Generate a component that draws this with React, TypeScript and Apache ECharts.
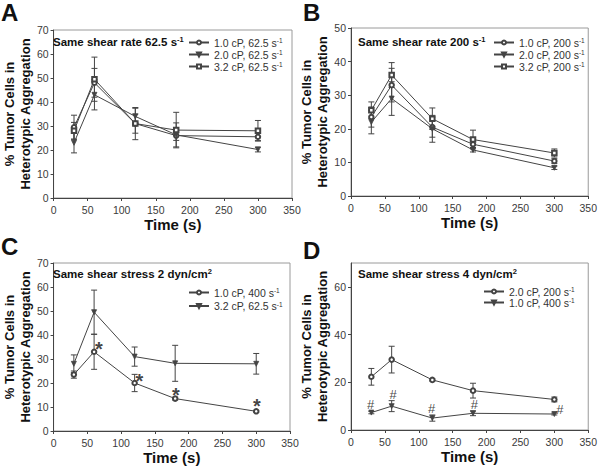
import React, { useEffect, useRef } from "react";
import * as echarts from "echarts";

// ---- Data ----
const TIME = [30, 60, 120, 180, 300];

// Panel A: same shear rate 62.5 s-1
const A_1cP = [29.5, 48, 31, 26, 25.5];
const A_1cP_err = [5, 6, 6.7, 2, 1.5];
const A_2cP = [23, 43, 34, 26.3, 20.2];
const A_2cP_err = [4.2, 6.3, 3.4, 5, 1];
const A_32cP = [28, 49.5, 31, 28.3, 28];
const A_32cP_err = [3.5, 9.2, 4, 7.4, 4.3];

// Panel B: same shear rate 200 s-1
const B_1cP = [23.5, 33, 20.5, 15.4, 10.4];
const B_1cP_err = [3, 5, 3, 1, 0.7];
const B_2cP = [22, 29, 20, 13.7, 8.4];
const B_2cP_err = [3.5, 5, 4, 0.6, 0.5];
const B_32cP = [25.5, 36, 23, 16.8, 12.8];
const B_32cP_err = [2.5, 3.7, 3.2, 2.8, 1.2];

// Panel C: same shear stress 2 dyn/cm2
const C_1cP400 = [23.5, 33, 20, 13.5, 8.2];
const C_1cP400_err = [1.5, 7.3, 3.6, 0.6, 0.4];
const C_32cP625 = [28, 49.5, 31, 28.2, 28];
const C_32cP625_err = [3.7, 9.2, 4, 7.5, 4.3];
const C_STARS = [[67, 34], [127, 20.7], [181, 15.1], [301, 10.3]];

// Panel D: same shear stress 4 dyn/cm2
const D_2cP200 = [22.3, 29.5, 21, 16.5, 12.8];
const D_2cP200_err = [3.5, 5.6, 0.4, 3.1, 1];
const D_1cP400 = [7.3, 10, 5, 7, 6.7];
const D_1cP400_err = [0.5, 2.3, 1.3, 1, 0.4];
const D_HASH = [[29, 10.8], [62, 15], [119, 9], [182, 10.8], [308, 8.6]];

const LEGEND_A = ["A~1.0 cP, 62.5 s", "A~2.0 cP, 62.5 s", "A~3.2 cP, 62.5 s"];
const LEGEND_B = ["B~1.0 cP, 200 s", "B~2.0 cP, 200 s", "B~3.2 cP, 200 s"];
const LEGEND_C = ["C~1.0 cP, 400 s", "C~3.2 cP, 62.5 s"];
const LEGEND_D = ["D~2.0 cP, 200 s", "D~1.0 cP, 400 s"];

const FONT = "'Liberation Sans', Arial, Helvetica, sans-serif";
const LINE = "#444";

const supRich = (size: number, lh: number) => ({
  sup: { fontSize: size * 0.62, fontFamily: FONT, verticalAlign: "top", lineHeight: lh, color: "#333" },
});

function seriesPair(name: string, grid: number, vals: number[], errs: number[], symbol: string, rotate = 0) {
  const line = {
    type: "line",
    name,
    xAxisIndex: grid,
    yAxisIndex: grid,
    data: TIME.map((t, i) => [t, vals[i]]),
    symbol,
    symbolSize: symbol === "triangle" ? 5 : 4.5,
    symbolRotate: rotate,
    showSymbol: true,
    lineStyle: { color: LINE, width: 1 },
    itemStyle: { color: LINE, borderColor: LINE, borderWidth: 0.8 },
    z: 3,
  };
  const err = {
    type: "custom",
    name: name + "_err",
    xAxisIndex: grid,
    yAxisIndex: grid,
    data: TIME.map((t, i) => [t, vals[i], errs[i]]),
    encode: { x: 0, y: 1 },
    z: 2,
    renderItem: (params: any, api: any) => {
      const x = api.value(0);
      const y = api.value(1);
      const e = api.value(2);
      const hi = api.coord([x, y + e]);
      const lo = api.coord([x, y - e]);
      const w = 3;
      const st = { stroke: LINE, lineWidth: 1 };
      return {
        type: "group",
        children: [
          { type: "line", shape: { x1: hi[0], y1: hi[1], x2: lo[0], y2: lo[1] }, style: st },
          { type: "line", shape: { x1: hi[0] - w, y1: hi[1], x2: hi[0] + w, y2: hi[1] }, style: st },
          { type: "line", shape: { x1: lo[0] - w, y1: lo[1], x2: lo[0] + w, y2: lo[1] }, style: st },
        ],
      };
    },
  };
  return [line, err];
}

function annot(grid: number, pts: number[][], text: string, size: number, weight: string) {
  return {
    type: "scatter",
    name: "annot" + grid,
    xAxisIndex: grid,
    yAxisIndex: grid,
    data: pts,
    symbolSize: 1,
    itemStyle: { color: "transparent" },
    label: {
      show: true,
      position: "inside",
      formatter: () => text,
      fontSize: size,
      fontWeight: weight,
      fontFamily: FONT,
      color: "#111",
    },
    z: 4,
  };
}

const GRIDS = [
  { left: 51, top: 30, width: 241, height: 168 },
  { left: 351, top: 28, width: 241, height: 168 },
  { left: 51, top: 263, width: 239, height: 168 },
  { left: 351, top: 263, width: 239, height: 167 },
];
const Y_MAX = [70, 50, 70, 70];
const Y_INT = [10, 10, 10, 20];

export default function App() {
  const ref = useRef<HTMLDivElement>(null);
  useEffect(() => {
    document.body.style.margin = "0";
    if (!ref.current) return;
    const chart = echarts.init(ref.current, null, { renderer: "svg" });

    const axisLabel = { fontSize: 10.5, color: "#3a3a3a", fontFamily: FONT };
    const xAxes = GRIDS.map((_, i) => ({
      type: "value",
      gridIndex: i,
      min: 0,
      max: 350,
      interval: 50,
      name: "Time (s)",
      nameLocation: "middle",
      nameGap: 19,
      nameTextStyle: { fontSize: 15, fontWeight: "bold", color: "#111", fontFamily: FONT },
      axisLine: { show: true, lineStyle: { color: "#444", width: 1 } },
      axisTick: { show: true, inside: false, length: 3, lineStyle: { color: "#444" } },
      axisLabel: { ...axisLabel, margin: 6 },
      splitLine: { show: false },
    }));
    const yAxes = GRIDS.map((_, i) => ({
      type: "value",
      gridIndex: i,
      min: 0,
      max: Y_MAX[i],
      interval: Y_INT[i],
      name: "% Tumor Cells in\nHeterotypic Aggregation",
      nameLocation: "middle",
      nameRotate: 90,
      nameGap: 18,
      nameTextStyle: { fontSize: 13, fontWeight: "bold", color: "#111", fontFamily: FONT, lineHeight: 16 },
      axisLine: { show: true, lineStyle: { color: "#444", width: 1 } },
      axisTick: { show: true, inside: false, length: 3, lineStyle: { color: "#444" } },
      axisLabel: { ...axisLabel, margin: 5, showMaxLabel: i !== 3 },
      splitLine: { show: false },
    }));

    const legendBase = (data: string[], left: number, top: number, gap: number) => ({
      data,
      left,
      top,
      orient: "vertical",
      itemWidth: 20,
      itemHeight: 5,
      itemGap: gap,
      padding: 0,
      selectedMode: false,
      formatter: (n: string) => n.split("~")[1] + "{sup|-1}",
      textStyle: {
        fontSize: 10.5,
        color: "#333",
        fontFamily: FONT,
        lineHeight: 11,
        rich: supRich(10.5, 11),
      },
    });

    const titleStyle = {
      fontSize: 11.5,
      fontWeight: "bold",
      color: "#111",
      fontFamily: FONT,
      lineHeight: 13,
      rich: {
        sup: { fontSize: 7.5, fontWeight: "bold", fontFamily: FONT, verticalAlign: "top", lineHeight: 13, color: "#111" },
      },
    };
    const letterStyle = { fontSize: 24, fontWeight: "bold", color: "#111", fontFamily: FONT };

    const option: any = {
      animation: false,
      backgroundColor: "#fff",
      grid: GRIDS.map((g) => ({ ...g, show: true, borderColor: "#9a9a9a", borderWidth: 1, backgroundColor: "transparent" })),
      xAxis: xAxes,
      yAxis: yAxes,
      title: [
        { text: "A", left: 1, top: 0, textStyle: letterStyle, padding: 0 },
        { text: "B", left: 303, top: 0, textStyle: letterStyle, padding: 0 },
        { text: "C", left: 1, top: 234, textStyle: letterStyle, padding: 0 },
        { text: "D", left: 303, top: 238, textStyle: letterStyle, padding: 0 },
        { text: "Same shear rate 62.5 s{sup|-1}", left: 53, top: 35, padding: 0, textStyle: titleStyle },
        { text: "Same shear rate 200 s{sup|-1}", left: 358, top: 35, padding: 0, textStyle: titleStyle },
        { text: "Same shear stress 2 dyn/cm{sup|2}", left: 53, top: 267, padding: 0, textStyle: titleStyle },
        { text: "Same shear stress 4 dyn/cm{sup|2}", left: 358, top: 267, padding: 0, textStyle: titleStyle },
      ],
      legend: [
        legendBase(LEGEND_A, 188, 37, 1),
        legendBase(LEGEND_B, 493, 37, 1),
        legendBase(LEGEND_C, 188, 287, 2.5),
        legendBase(LEGEND_D, 483, 286, 0),
      ],
      series: [
        ...seriesPair(LEGEND_A[0], 0, A_1cP, A_1cP_err, "emptyCircle"),
        ...seriesPair(LEGEND_A[1], 0, A_2cP, A_2cP_err, "triangle", 180),
        ...seriesPair(LEGEND_A[2], 0, A_32cP, A_32cP_err, "emptyRect"),
        ...seriesPair(LEGEND_B[0], 1, B_1cP, B_1cP_err, "emptyCircle"),
        ...seriesPair(LEGEND_B[1], 1, B_2cP, B_2cP_err, "triangle", 180),
        ...seriesPair(LEGEND_B[2], 1, B_32cP, B_32cP_err, "emptyRect"),
        ...seriesPair(LEGEND_C[0], 2, C_1cP400, C_1cP400_err, "emptyCircle"),
        ...seriesPair(LEGEND_C[1], 2, C_32cP625, C_32cP625_err, "triangle", 180),
        ...seriesPair(LEGEND_D[0], 3, D_2cP200, D_2cP200_err, "emptyCircle"),
        ...seriesPair(LEGEND_D[1], 3, D_1cP400, D_1cP400_err, "triangle", 180),
        annot(2, C_STARS, "*", 20, "bold"),
        annot(3, D_HASH, "#", 13, "normal"),
      ],
    };
    chart.setOption(option);
    return () => chart.dispose();
  }, []);
  return <div ref={ref} style={{ width: 600, height: 467 }} />;
}
